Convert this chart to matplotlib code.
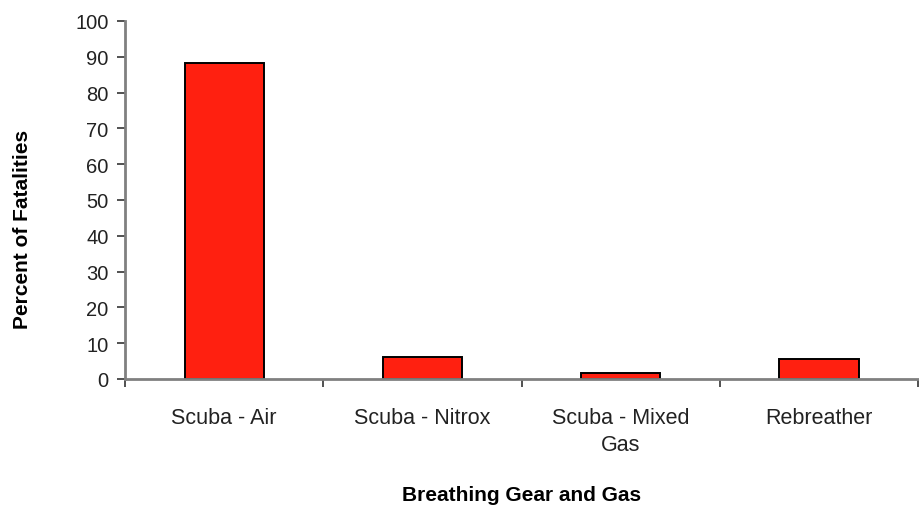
#!/usr/bin/env python3
"""Percent of fatalities by breathing gear and gas."""

import matplotlib
matplotlib.use("Agg")
import matplotlib.pyplot as plt
import numpy as np

plt.rcParams["font.family"] = ["Liberation Sans", "DejaVu Sans"]

CATEGORIES = ["Scuba - Air", "Scuba - Nitrox", "Scuba - Mixed\nGas", "Rebreather"]
PERCENT = [88.3, 6.2, 1.6, 5.6]
Y_TICKS = list(range(0, 101, 10))

BAR_COLOR = "#ff2010"
AXIS_COLOR = "#808080"


def main() -> None:
    fig = plt.figure(figsize=(9.2, 5.1), dpi=100)
    ax = fig.add_axes([0.136, 0.255, 0.862, 0.702])

    x = np.arange(len(CATEGORIES))
    ax.bar(x, PERCENT, width=0.4, color=BAR_COLOR, edgecolor="black", linewidth=1.4, zorder=2)

    ax.set_xlim(-0.5, len(CATEGORIES) - 0.5)
    ax.set_ylim(0, 100)
    ax.set_yticks(Y_TICKS)
    ax.set_yticklabels([str(t) for t in Y_TICKS], fontsize=14.5, color="#222222")

    # category labels centred, tick marks on the boundaries
    ax.set_xticks(x)
    ax.set_xticklabels(CATEGORIES, fontsize=15.5, color="#222222", linespacing=1.4)
    ax.tick_params(axis="x", length=0, pad=20)
    ax.set_xticks(np.arange(-0.5, len(CATEGORIES)), minor=True)
    ax.tick_params(axis="x", which="minor", length=6, width=1.2, color="#333333")
    ax.tick_params(axis="y", length=6, width=1.2, color="#333333", pad=6)

    for side in ("top", "right"):
        ax.spines[side].set_visible(False)
    for side in ("left", "bottom"):
        ax.spines[side].set_color(AXIS_COLOR)
        ax.spines[side].set_linewidth(2)

    ax.set_ylabel("Percent of Fatalities", fontsize=15, fontweight="bold", labelpad=0)
    ax.yaxis.set_label_coords(-0.118, 0.42)
    ax.set_xlabel("Breathing Gear and Gas", fontsize=15, fontweight="bold")
    ax.xaxis.set_label_coords(0.5, -0.296)

    fig.savefig("out.png", dpi=100)
    plt.close(fig)


if __name__ == "__main__":
    main()
